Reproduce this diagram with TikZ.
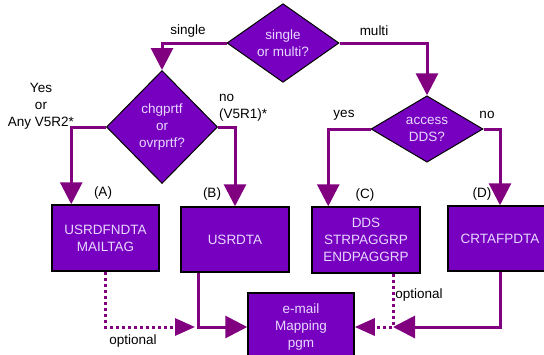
\documentclass[tikz,border=0pt]{standalone}
\usepackage{fontspec}
\setmainfont{Liberation Sans}
\usetikzlibrary{shapes.geometric, arrows.meta}
\definecolor{boxviolet}{RGB}{119,0,192}
\definecolor{linepurple}{RGB}{128,0,128}
\definecolor{boxtext}{RGB}{232,216,255}

\begin{document}
\begin{tikzpicture}[x=1pt,y=-1pt,
        font=\fontsize{13.5}{17}\selectfont,
        decision/.style={draw,diamond,fill=boxviolet,text=boxtext,align=center,
          inner sep=0pt,line width=1pt},
        process/.style={draw,rectangle,fill=boxviolet,text=boxtext,align=center,
          line width=1.5pt},
        flow/.style={draw=linepurple,line width=3pt,-{Triangle[width=22pt,length=22pt]}},
        optflow/.style={draw=linepurple,line width=3pt,dash pattern=on 3pt off 3pt,
          -{Triangle[width=17pt,length=20pt]}},
        lbl/.style={inner sep=0pt}]
        \useasboundingbox (0,0) rectangle (544,354);
        % decisions
        \node[decision, minimum width=112pt, minimum height=66pt] (choice) at (283,43)
        {single\\or multi?};
        \node[decision, minimum width=111pt, minimum height=113pt] (chgprtf) at (162,127)
        {chgprtf\\or\\ovrprtf?};
        \node[decision, minimum width=112pt, minimum height=65pt] (access) at (427,129)
        {access\\DDS?};
        % processes
        \node[process, minimum width=107pt, minimum height=66pt] (usrdfndta) at (105.5,238)
        {USRDFNDTA\\MAILTAG};
        \node[process, minimum width=108pt, minimum height=65pt] (usrdta) at (235,239.5)
        {USRDTA};
        \node[process, minimum width=108pt, minimum height=66pt] (dds) at (366,240)
        {DDS\\STRPAGGRP\\ENDPAGGRP};
        \node[process, minimum width=104pt, minimum height=65pt] (crtafpdta) at (500,238.5)
        {CRTAFPDTA};
        \node[process, minimum width=106pt, minimum height=68pt] (email) at (301,327)
        {e-mail\\Mapping\\pgm};
        % labels
        \node[lbl] (single) at (188,31) {single};
        \node[lbl] (multi) at (374,31) {multi};
        \node[lbl, align=center] (yesany) at (41,106) {Yes\\or\\Any V5R2*};
        \node[lbl, align=left, anchor=west] (nov5r1) at (219,108) {no\\(V5R1)*};
        \node[lbl] (yes) at (344,115) {yes};
        \node[lbl] (no) at (487,115) {no};
        \node[lbl] (tagA) at (103,193) {(A)};
        \node[lbl] (tagB) at (212,194) {(B)};
        \node[lbl] (tagC) at (365,195) {(C)};
        \node[lbl] (tagD) at (482,194) {(D)};
        \node[lbl] (optleft) at (133,341) {optional};
        \node[lbl] (optright) at (419,295) {optional};
        \coordinate (joinA) at (195,327);
        \coordinate (joinD) at (393,327);
        % connectors
        \draw[flow] (choice.west) -| (chgprtf.north);
        \draw[flow] (choice.east) -| (access.north);
        \draw[flow] (chgprtf.west) -| ([xshift=20pt]usrdfndta.north west);
        \draw[flow] (chgprtf.east) -| (usrdta.north);
        \draw[flow] (access.west) -| ([xshift=17pt]dds.north west);
        \draw[flow] (access.east) -| (crtafpdta.north);
        \draw[optflow] (usrdfndta.south) |- (joinA);
        \draw[flow] ([xshift=18pt]usrdta.south west) |- (email.west);
        \draw[flow] (crtafpdta.south) |- (joinD);
        \draw[optflow] ([xshift=27pt]dds.south) |- (email.east);
\end{tikzpicture}
\end{document}
